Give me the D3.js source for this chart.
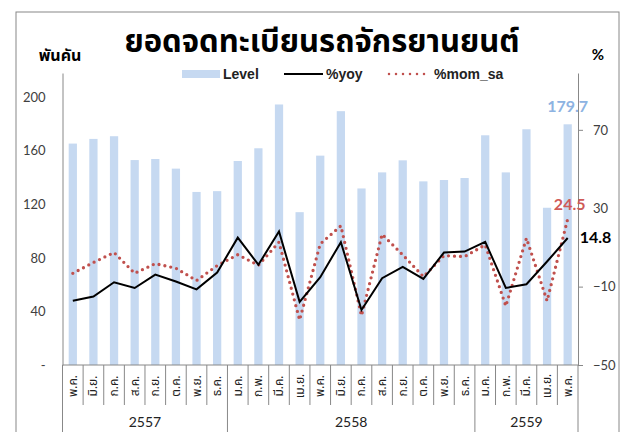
<!DOCTYPE html>
<html lang="th">
<head>
<meta charset="utf-8">
<script src="https://d3js.org/d3.v7.min.js"></script>
<style>
  body { margin: 0; background: #fff; }
  .tick text { font-family: Lato, "Liberation Sans", sans-serif; font-size: 13px; fill: #404040; }
  .axis path, .axis line { stroke: #888; }
  .month { font-family: "Noto Sans Thai", Tahoma, "DejaVu Sans", sans-serif; font-size: 12px; fill: #222; }
  .year { font-family: Lato, "Liberation Sans", sans-serif; font-size: 14px; fill: #222; }
  .legend text { font-family: "Liberation Sans", sans-serif; font-size: 14px; font-weight: bold; fill: #222; }
</style>
</head>
<body>
<div id="chart"></div>
<script>
// data
var months = ["พ.ค.", "มิ.ย.", "ก.ค.", "ส.ค.", "ก.ย.", "ต.ค.", "พ.ย.", "ธ.ค.",
              "ม.ค.", "ก.พ.", "มี.ค.", "เม.ย.", "พ.ค.", "มิ.ย.", "ก.ค.", "ส.ค.", "ก.ย.", "ต.ค.", "พ.ย.", "ธ.ค.",
              "ม.ค.", "ก.พ.", "มี.ค.", "เม.ย.", "พ.ค."];
var years = [{ label: "2557", start: 0, end: 8 }, { label: "2558", start: 8, end: 20 }, { label: "2559", start: 20, end: 25 }];
var level = [165.3, 168.8, 170.8, 153.0, 153.8, 146.6, 129.2, 129.8,
             152.3, 161.8, 194.5, 114.1, 156.3, 189.5, 131.8, 143.8, 152.8, 137.1, 138.1, 139.6,
             171.5, 143.8, 176.0, 117.4, 179.7];
var yoy = [-17.2, -15.1, -7.8, -10.7, -3.9, -7.4, -11.4, -2.8,
           15.0, 1.2, 18.1, -17.8, -5.2, 12.7, -21.9, -5.7, 0.1, -6.1, 7.4, 7.9,
           12.8, -10.7, -8.8, 2.8, 14.8];
var momSa = [-3.2, 2.3, 7.4, -3.2, 1.7, -0.6, -6.9, 0.7,
             6.3, 0.9, 12.7, -27.0, 11.8, 21.0, -24.8, 16.7, 6.2, -4.9, 5.8, 5.3,
             11.3, -19.9, 14.7, -17.3, 24.5];
var leftTicks = [0, 40, 80, 120, 160, 200];
var rightTicks = [-50, -10, 30, 70];

var W = 630, H = 432;
var plot = { left: 62.5, right: 578, top: 73, bottom: 365 };

var svg = d3.select("#chart").append("svg")
    .attr("width", W).attr("height", H);

// outer frame
svg.append("rect")
    .attr("x", 16).attr("y", 12).attr("width", 603).attr("height", 440)
    .attr("fill", "none").attr("stroke", "#888");

var x = d3.scaleBand()
    .domain(d3.range(months.length))
    .range([plot.left, plot.right])
    .paddingInner(0.6).paddingOuter(0.3);
var step = x.step();
var cx = function(i) { return x(i) + x.bandwidth() / 2; };

var yL = d3.scaleLinear().domain([0, 218]).range([plot.bottom, plot.top]);
var yR = d3.scaleLinear().domain([-50, 99]).range([plot.bottom, plot.top]);

// bars
svg.append("g").selectAll("rect")
    .data(level)
    .enter().append("rect")
    .attr("x", function(d, i) { return x(i); })
    .attr("y", function(d) { return yL(d); })
    .attr("width", x.bandwidth())
    .attr("height", function(d) { return yL(0) - yL(d); })
    .attr("fill", "#c6d9f1");

// lines
var line = d3.line()
    .x(function(d, i) { return cx(i); })
    .y(function(d) { return yR(d); });

svg.append("path")
    .datum(momSa)
    .attr("d", line)
    .attr("fill", "none")
    .attr("stroke", "#c0504d")
    .attr("stroke-width", 3.3)
    .attr("stroke-linecap", "round")
    .attr("stroke-dasharray", "0 6");

svg.append("path")
    .datum(yoy)
    .attr("d", line)
    .attr("fill", "none")
    .attr("stroke", "#000")
    .attr("stroke-width", 2);

// axes
svg.append("g")
    .attr("class", "axis")
    .attr("transform", "translate(" + plot.left + ",0)")
    .call(d3.axisLeft(yL).tickValues(leftTicks).tickSize(0).tickPadding(17)
        .tickFormat(function(d) { return d === 0 ? "-" : d; }));

svg.append("g")
    .attr("class", "axis")
    .attr("transform", "translate(" + plot.right + ",0)")
    .call(d3.axisRight(yR).tickValues(rightTicks).tickSizeInner(5).tickSizeOuter(0).tickPadding(10));

// category axis box
var bx = svg.append("g").attr("class", "axis");
bx.append("line")
    .attr("x1", plot.left).attr("x2", plot.right)
    .attr("y1", plot.bottom).attr("y2", plot.bottom);
bx.selectAll("line.sep")
    .data(d3.range(months.length + 1))
    .enter().append("line")
    .attr("class", "sep")
    .attr("x1", function(i) { return plot.left + i * step; })
    .attr("x2", function(i) { return plot.left + i * step; })
    .attr("y1", plot.bottom)
    .attr("y2", function(i) {
        var isYear = years.some(function(y) { return y.start === i || y.end === i; });
        return isYear ? H : 405;
    });

svg.selectAll("text.month")
    .data(months)
    .enter().append("text")
    .attr("class", "month")
    .attr("transform", function(d, i) { return "translate(" + (cx(i) + 4) + ",386) rotate(-90)"; })
    .attr("text-anchor", "middle")
    .text(function(d) { return d; });

svg.selectAll("text.year")
    .data(years)
    .enter().append("text")
    .attr("class", "year")
    .attr("x", function(d) { return plot.left + (d.start + d.end) / 2 * step; })
    .attr("y", 427)
    .attr("text-anchor", "middle")
    .text(function(d) { return d.label; });

// data labels on the last point
var last = months.length - 1;
svg.append("text")
    .attr("x", cx(last)).attr("y", 112)
    .attr("text-anchor", "middle")
    .style("font-family", "Lato, sans-serif").style("font-size", "16px").style("font-weight", "bold")
    .style("fill", "#8db3e2")
    .text(level[last]);
svg.append("text")
    .attr("x", cx(last) + 2).attr("y", yR(momSa[last]) - 9)
    .attr("text-anchor", "middle")
    .style("font-family", "Lato, sans-serif").style("font-size", "16px").style("font-weight", "bold")
    .style("fill", "#d05a57")
    .text(momSa[last]);
svg.append("text")
    .attr("x", cx(last) + 12).attr("y", yR(yoy[last]) + 5)
    .attr("text-anchor", "start")
    .style("font-family", "Lato, sans-serif").style("font-size", "16px").style("font-weight", "bold")
    .style("fill", "#000")
    .text(yoy[last]);

// titles
svg.append("text")
    .attr("x", 322).attr("y", 52)
    .attr("text-anchor", "middle")
    .style("font-family", "\"Noto Sans Thai\", Tahoma, sans-serif")
    .style("font-size", "31px").style("font-weight", "bold")
    .text("ยอดจดทะเบียนรถจักรยานยนต์");
svg.append("text")
    .attr("x", 60).attr("y", 61)
    .attr("text-anchor", "middle")
    .style("font-family", "\"Noto Sans Thai\", Tahoma, sans-serif")
    .style("font-size", "16px").style("font-weight", "bold")
    .text("พันคัน");
svg.append("text")
    .attr("x", 598).attr("y", 60)
    .attr("text-anchor", "middle")
    .style("font-family", "Lato, sans-serif")
    .style("font-size", "15px").style("font-weight", "bold")
    .text("%");

// legend
var lg = svg.append("g").attr("class", "legend");
lg.append("rect").attr("x", 182).attr("y", 70).attr("width", 38).attr("height", 8).attr("fill", "#c6d9f1");
lg.append("text").attr("x", 223).attr("y", 79).text("Level");
lg.append("line").attr("x1", 284).attr("x2", 323).attr("y1", 74).attr("y2", 74)
    .attr("stroke", "#000").attr("stroke-width", 2);
lg.append("text").attr("x", 326).attr("y", 79).text("%yoy");
lg.append("line").attr("x1", 389).attr("x2", 431).attr("y1", 74).attr("y2", 74)
    .attr("stroke", "#c0504d").attr("stroke-width", 2.5)
    .attr("stroke-linecap", "round").attr("stroke-dasharray", "0 7");
lg.append("text").attr("x", 434).attr("y", 79).text("%mom_sa");
</script>
</body>
</html>
